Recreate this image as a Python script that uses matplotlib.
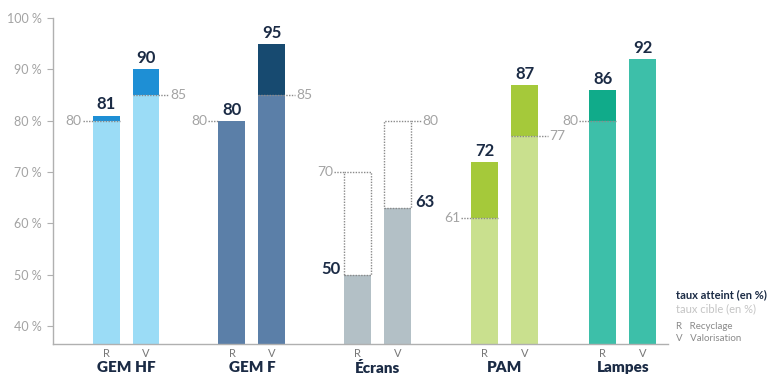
import matplotlib
matplotlib.use("Agg")
import matplotlib.pyplot as plt
from matplotlib.patches import Rectangle
from matplotlib.transforms import blended_transform_factory

categories = ["GEM HF", "GEM F", "Écrans", "PAM", "Lampes"]
achieved_r = [81, 80, 50, 72, 86]
achieved_v = [90, 95, 63, 87, 92]
target_r = [80, 80, 70, 61, 80]
target_v = [85, 85, 80, 77, None]
y_ticks = [40, 50, 60, 70, 80, 90, 100]

base_colors = ["#9bdcf6", "#5b7fa8", "#b3c0c6", "#c9e08e", "#3dbfa9"]
top_colors = ["#1e8fd5", "#174a70", "#b3c0c6", "#a5c93a", "#10ab8a"]

DARK = "#1b2b45"
GREY = "#a3a3a3"
AXIS = "#b0b0b0"
FONT = ["Lato", "DejaVu Sans"]

plt.rcParams["font.family"] = FONT

fig = plt.figure(figsize=(7.72, 3.77), dpi=100)
ax = fig.add_axes([0.0687, 0.0875, 0.7963, 0.8715])

ymin, ymax = 36.5, 100.5
ax.set_ylim(ymin, ymax)
ax.set_xlim(53, 668)

group_x = [106, 232, 358, 485, 603]
pair_gap = 40
width = 27


def draw_bar(x, value, target, base, top, side):
    left = x - width / 2
    right = x + width / 2
    if target is None or value == target:
        ax.bar(x, value - ymin, width, bottom=ymin, color=base, zorder=2)
    elif value > target:
        ax.bar(x, target - ymin, width, bottom=ymin, color=base, zorder=2)
        ax.bar(x, value - target, width, bottom=target, color=top, zorder=2)
    else:
        # target not reached: dotted outline up to the target
        ax.bar(x, value - ymin, width, bottom=ymin, color=base, zorder=2)
        ax.add_patch(Rectangle((left, value), width, target - value,
                               fill=False, edgecolor="#8a8a8a", lw=1.0,
                               linestyle=(0, (1, 1)), zorder=3))

    if target is not None:
        if side == "left":
            ax.plot([left - 10, right if value > target else left],
                    [target, target], color="#8a8a8a", lw=1.0,
                    linestyle=(0, (1, 1)), zorder=4)
            ax.text(left - 11, target, f"{target}", ha="right", va="center",
                    fontsize=10, color=GREY)
        else:
            ax.plot([left if value > target else right, right + 10],
                    [target, target], color="#8a8a8a", lw=1.0,
                    linestyle=(0, (1, 1)), zorder=4)
            ax.text(right + 11, target, f"{target}", ha="left", va="center",
                    fontsize=10, color=GREY)

    # achieved value label
    if target is not None and value < target:
        if side == "left":
            ax.text(left - 4, value + 1.2, f"{value}", ha="right", va="center",
                    fontsize=12, fontweight="bold", color=DARK)
        else:
            ax.text(right + 4, value + 1.2, f"{value}", ha="left", va="center",
                    fontsize=12, fontweight="bold", color=DARK)
    else:
        ax.text(x, value + 0.6, f"{value}", ha="center", va="bottom",
                fontsize=12, fontweight="bold", color=DARK)


for i, cat in enumerate(categories):
    xr = group_x[i]
    xv = xr + pair_gap
    draw_bar(xr, achieved_r[i], target_r[i], base_colors[i], top_colors[i], "left")
    draw_bar(xv, achieved_v[i], target_v[i], base_colors[i], top_colors[i], "right")

ticks_x = []
tick_lbls = []
for gx in group_x:
    ticks_x += [gx, gx + pair_gap]
    tick_lbls += ["R", "V"]
ax.set_xticks(ticks_x)
ax.set_xticklabels(tick_lbls, fontsize=8, color="#777777")
ax.tick_params(axis="x", length=0, pad=3)

trans = blended_transform_factory(ax.transData, ax.transAxes)
for gx, cat in zip(group_x, categories):
    ax.text(gx + pair_gap / 2, -0.072, cat, transform=trans, ha="center",
            va="center", fontsize=11, fontweight="heavy", color=DARK)

ax.set_yticks(y_ticks)
ax.set_yticklabels([f"{t} %" for t in y_ticks], fontsize=9, color=GREY)
ax.tick_params(axis="y", length=4, color=AXIS, pad=4)

for s in ["top", "right"]:
    ax.spines[s].set_visible(False)
for s in ["left", "bottom"]:
    ax.spines[s].set_color(AXIS)
    ax.spines[s].set_linewidth(1.0)
ax.spines["left"].set_bounds(ymin, 100)

fig.text(0.876, 0.218, "taux atteint (en %)", fontsize=8, fontweight="bold",
         color=DARK, ha="left", va="center")
fig.text(0.876, 0.180, "taux cible (en %)", fontsize=8, color="#c4c4c4",
         ha="left", va="center")
fig.text(0.876, 0.135, "R   Recyclage", fontsize=7, color="#8a8a8a",
         ha="left", va="center")
fig.text(0.876, 0.103, "V   Valorisation", fontsize=7, color="#8a8a8a",
         ha="left", va="center")

fig.savefig("out.png", dpi=100)
